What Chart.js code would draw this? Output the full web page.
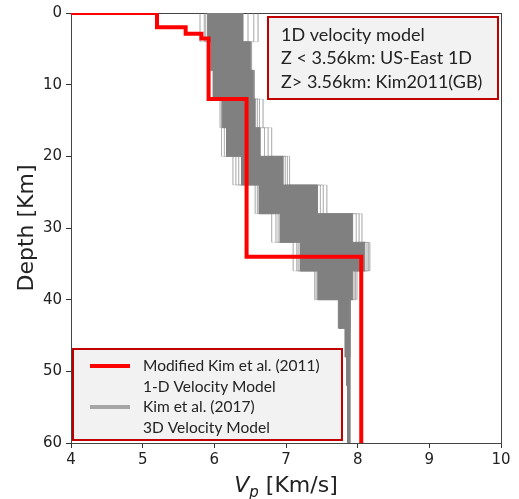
<!DOCTYPE html>
<html>
<head>
<meta charset="utf-8">
<script src="https://cdn.jsdelivr.net/npm/chart.js@4.4.1/dist/chart.umd.min.js"></script>
<style>
  html, body { margin: 0; padding: 0; background: #ffffff; }
  #wrap { width: 519px; height: 499px; position: relative; }
</style>
</head>
<body>
<div id="wrap"><canvas id="vpChart" width="519" height="499"></canvas></div>
<script>
// Axis ticks
const xTickValues = [4, 5, 6, 7, 8, 9, 10];
const yTickValues = [0, 10, 20, 30, 40, 50, 60];

// Layer boundaries of the 3-D model (km)
const layerDepths = [0, 4, 8, 12, 16, 20, 24, 28, 32, 36, 40, 44, 48, 52, 56, 60];
// Envelope of the densely overlapping 3-D profiles, Vp per layer (km/s)
const vpBandMin = [5.91, 5.96, 5.99, 6.12, 6.17, 6.38, 6.63, 6.92, 7.20, 7.45, 7.74, 7.83, 7.85, 7.86, 7.86];
const vpBandMax = [6.40, 6.50, 6.54, 6.57, 6.64, 6.96, 7.44, 7.93, 8.10, 7.93, 7.89, 7.89, 7.89, 7.89, 7.89];
// Outlying individual 3-D profiles
const vpProfileA = [6.61, 6.52, 6.56, 6.68, 6.80, 7.05, 7.57, 8.06, 8.17, 7.99, 7.90, 7.90, 7.89, 7.89, 7.89];
const vpProfileB = [6.55, 6.51, 6.55, 6.63, 6.75, 7.02, 7.52, 8.02, 8.15, 7.97, 7.90, 7.89, 7.89, 7.89, 7.89];
const vpProfileC = [6.47, 6.50, 6.55, 6.60, 6.70, 6.99, 7.48, 7.98, 8.13, 7.95, 7.89, 7.89, 7.89, 7.89, 7.89];
const vpProfileD = [5.80, 5.93, 5.98, 6.08, 6.10, 6.26, 6.57, 6.80, 7.10, 7.40, 7.73, 7.82, 7.85, 7.86, 7.86];
const vpProfileE = [5.86, 5.95, 6.02, 6.10, 6.14, 6.30, 6.60, 6.86, 7.15, 7.42, 7.74, 7.83, 7.85, 7.86, 7.86];
const vpProfileF = [5.88, 5.96, 6.00, 6.11, 6.19, 6.34, 6.62, 6.89, 7.17, 7.44, 7.75, 7.83, 7.86, 7.87, 7.87];

// Modified Kim et al. (2011) 1-D model
const kimDepths = [0, 0, 2, 2.9, 3.56, 12, 34, 60];
const kimVp = [4.0, 5.2, 5.6, 5.82, 5.92, 6.45, 8.05];

// Text
const legendLabels = [
  ['Modified Kim et al. (2011)', '1-D Velocity Model'],
  ['Kim et al. (2017)', '3D Velocity Model']
];
const noteLines = ['1D velocity model', 'Z < 3.56km: US-East 1D', 'Z> 3.56km: Kim2011(GB)'];
const yTitle = 'Depth [Km]';

// Turn layer velocities into a stepped depth profile
function stepProfile(depths, vps) {
  const pts = [];
  for (let i = 0; i < vps.length; i++) {
    pts.push({ x: vps[i], y: depths[i] });
    pts.push({ x: vps[i], y: depths[i + 1] });
  }
  return pts;
}

const bandShape = stepProfile(layerDepths, vpBandMin)
  .concat(stepProfile(layerDepths, vpBandMax).reverse());

const lightColor = 'rgba(128,128,128,0.28)';
function lightProfile(vps) {
  return {
    data: stepProfile(layerDepths, vps),
    borderColor: lightColor, borderWidth: 1, pointRadius: 0, fill: false, order: 3
  };
}

const RED = '#ff0000';
const BOX_RED = '#c00000';
const BOX_FILL = '#f2f2f2';
const GRAY_SAMPLE = '#a6a6a6';
const TEXT = '#222222';

const decorations = {
  id: 'decorations',
  beforeDatasetsDraw(chart) {
    const { ctx, chartArea: a } = chart;
    ctx.save();
    ctx.strokeStyle = '#444';
    ctx.lineWidth = 1;
    ctx.strokeRect(a.left + 0.5, a.top + 0.5, a.right - a.left, a.bottom - a.top);
    ctx.restore();
  },
  afterDatasetsDraw(chart) {
    const { ctx } = chart;
    ctx.save();
    // Note box (top right)
    ctx.fillStyle = BOX_FILL;
    ctx.fillRect(268, 17, 230, 82);
    ctx.strokeStyle = BOX_RED;
    ctx.lineWidth = 2;
    ctx.strokeRect(268, 17, 230, 82);
    ctx.fillStyle = TEXT;
    ctx.font = '18px Lato';
    ctx.textBaseline = 'middle';
    ctx.textAlign = 'left';
    noteLines.forEach((t, i) => ctx.fillText(t, 281, 35 + i * 23.5));

    // Legend box (bottom left)
    ctx.fillStyle = BOX_FILL;
    ctx.fillRect(73, 349, 269, 91);
    ctx.strokeStyle = BOX_RED;
    ctx.lineWidth = 2;
    ctx.strokeRect(73, 349, 269, 91);
    ctx.lineWidth = 4;
    ctx.strokeStyle = RED;
    ctx.beginPath(); ctx.moveTo(90, 366); ctx.lineTo(130, 366); ctx.stroke();
    ctx.strokeStyle = GRAY_SAMPLE;
    ctx.beginPath(); ctx.moveTo(90, 407); ctx.lineTo(130, 407); ctx.stroke();
    ctx.fillStyle = TEXT;
    ctx.font = '15.5px Lato';
    const ys = [366, 386.5, 407, 427.5];
    let k = 0;
    legendLabels.forEach(pair => pair.forEach(t => { ctx.fillText(t, 143, ys[k++]); }));

    // Axis titles
    ctx.fillStyle = TEXT;
    ctx.textBaseline = 'alphabetic';
    ctx.save();
    ctx.translate(33, 228);
    ctx.rotate(-Math.PI / 2);
    ctx.textAlign = 'center';
    ctx.font = '22px "DejaVu Sans"';
    ctx.fillText(yTitle, 0, 0);
    ctx.restore();

    const fV = 'italic 22px "DejaVu Sans"', fP = 'italic 15px "DejaVu Sans"', fR = '22px "DejaVu Sans"';
    const rest = ' [Km/s]';
    ctx.font = fV; const wV = ctx.measureText('V').width;
    ctx.font = fP; const wP = ctx.measureText('p').width;
    ctx.font = fR; const wR = ctx.measureText(rest).width;
    let x0 = (chart.chartArea.left + chart.chartArea.right) / 2 - (wV + wP + wR) / 2;
    const base = 492;
    ctx.textAlign = 'left';
    ctx.font = fV; ctx.fillText('V', x0, base); x0 += wV;
    ctx.font = fP; ctx.fillText('p', x0, base + 5); x0 += wP;
    ctx.font = fR; ctx.fillText(rest, x0, base);
    ctx.restore();
  }
};

new Chart(document.getElementById('vpChart'), {
  type: 'line',
  data: {
    datasets: [
      {
        data: stepProfile(kimDepths, kimVp),
        borderColor: RED, borderWidth: 4, pointRadius: 0, fill: false, order: 1,
        borderJoinStyle: 'miter'
      },
      {
        data: bandShape,
        borderColor: '#808080', backgroundColor: '#808080', borderWidth: 1,
        pointRadius: 0, fill: 'shape', order: 2
      },
      lightProfile(vpProfileA),
      lightProfile(vpProfileB),
      lightProfile(vpProfileC),
      lightProfile(vpProfileD),
      lightProfile(vpProfileE),
      lightProfile(vpProfileF)
    ]
  },
  options: {
    responsive: false,
    animation: false,
    layout: { padding: { left: 0, top: 13, right: 18, bottom: 0 } },
    elements: { line: { tension: 0 } },
    plugins: { legend: { display: false }, tooltip: { enabled: false } },
    scales: {
      x: {
        type: 'linear', min: 4, max: 10,
        afterBuildTicks: s => { s.ticks = xTickValues.map(v => ({ value: v })); },
        afterFit: s => { s.height = 56; },
        grid: { drawOnChartArea: false, drawTicks: true, tickLength: 5, tickColor: '#333' },
        border: { display: true, color: '#444', width: 1 },
        ticks: { color: TEXT, font: { family: 'DejaVu Sans', size: 15 }, padding: 3, maxRotation: 0 }
      },
      y: {
        type: 'linear', min: 0, max: 60, reverse: true,
        afterBuildTicks: s => { s.ticks = yTickValues.map(v => ({ value: v })); },
        afterFit: s => { s.width = 71; },
        grid: { drawOnChartArea: false, drawTicks: true, tickLength: 5, tickColor: '#333' },
        border: { display: true, color: '#444', width: 1 },
        ticks: { color: TEXT, font: { family: 'DejaVu Sans', size: 15 }, padding: 4 }
      }
    }
  },
  plugins: [decorations]
});
</script>
</body>
</html>
